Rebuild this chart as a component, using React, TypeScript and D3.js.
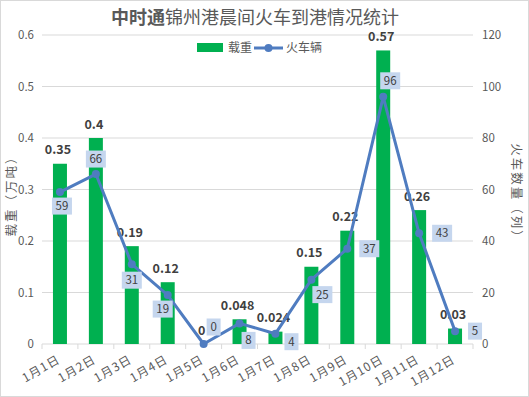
import React from 'react';
import * as d3 from 'd3';

const categories = ['1月1日', '1月2日', '1月3日', '1月4日', '1月5日', '1月6日',
                    '1月7日', '1月8日', '1月9日', '1月10日', '1月11日', '1月12日'];
const loads = [0.35, 0.4, 0.19, 0.12, 0, 0.048, 0.024, 0.15, 0.22, 0.57, 0.26, 0.03];
const trains = [59, 66, 31, 19, 0, 8, 4, 25, 37, 96, 43, 5];
const leftTicks = [0, 0.1, 0.2, 0.3, 0.4, 0.5, 0.6];
const rightTicks = [0, 20, 40, 60, 80, 100, 120];

// where Excel put each train label box, relative to its point
const labelOffsets = [[2, 14], [0, -15], [0, 16], [-5, 14], [10, -17], [9, 17],
                      [16, 8], [11, 15], [22, 0], [7, -16], [23, 0], [20, 0]];

const W = 529, H = 397;
const FONT = "'Noto Sans CJK SC', 'Noto Sans', sans-serif";

export default function App() {
  const x = d3.scaleBand().domain(categories).range([42, 473]);
  const yL = d3.scaleLinear().domain([0, 0.6]).range([344, 35]);
  const yR = d3.scaleLinear().domain([0, 120]).range([344, 35]);
  const barW = 14;
  const cx = (c: string) => (x(c) as number) + x.bandwidth() / 2;

  const line = d3.line<number>()
                 .x((d, i) => cx(categories[i]))
                 .y(d => yR(d));

  return (
    <div style={{position: 'absolute', left: 0, top: 0}}>
      <svg width={W} height={H} style={{fontFamily: FONT, display: 'block'}}>
        <rect x={0.5} y={0.5} width={W - 1} height={H - 1} fill="white" stroke="#d9d9d9" />

        {leftTicks.map(t =>
          <line key={'g' + t} x1={42} x2={473} y1={yL(t)} y2={yL(t)}
                stroke="#d9d9d9" strokeWidth={1} />
        )}

        {leftTicks.map(t =>
          <text key={'l' + t} x={34} y={yL(t)} dy="0.35em" textAnchor="end"
                fontSize={11.5} fill="#595959">{t}</text>
        )}
        {rightTicks.map(t =>
          <text key={'r' + t} x={482} y={yR(t)} dy="0.35em" textAnchor="start"
                fontSize={11.5} fill="#595959">{t}</text>
        )}

        {/* x axis ticks */}
        {d3.range(categories.length + 1).map(i =>
          <line key={'t' + i} x1={42 + i * x.step()} x2={42 + i * x.step()}
                y1={344} y2={349} stroke="#d9d9d9" />
        )}

        {categories.map((c, i) =>
          <rect key={'b' + c} x={cx(c) - barW / 2} y={yL(loads[i])} width={barW}
                height={344 - yL(loads[i])} fill="#00b050" />
        )}

        {categories.map((c, i) =>
          <text key={'bl' + c} x={cx(c) - 2} y={yL(loads[i]) - 9.5} textAnchor="middle"
                fontSize={12.5} fontWeight="bold" fill="#404040">{loads[i]}</text>
        )}

        <path d={line(trains) || ''} fill="none" stroke="#4f7cc0" strokeWidth={3}
              strokeLinejoin="round" />
        {categories.map((c, i) =>
          <circle key={'p' + c} cx={cx(c)} cy={yR(trains[i])} r={4} fill="#4f7cc0" />
        )}

        {categories.map((c, i) => {
          const bx = cx(c) + labelOffsets[i][0];
          const by = yR(trains[i]) + labelOffsets[i][1];
          const w = String(trains[i]).length > 1 ? 20 : 14;
          return (
            <g key={'tl' + c}>
              <rect x={bx - w / 2} y={by - 8.5} width={w} height={17} fill="#c5d6ee" />
              <text x={bx} y={by} dy="0.35em" textAnchor="middle" fontSize={11.5}
                    fill="#404040">{trains[i]}</text>
            </g>
          );
        })}

        {categories.map(c =>
          <text key={'x' + c} textAnchor="end" fontSize={12} fill="#595959"
                letterSpacing={1}
                transform={`translate(${cx(c) + 1},${362}) rotate(-30)`}>{c}</text>
        )}

        <text x={255} y={24} textAnchor="middle" fontSize={18} fill="#595959">
          <tspan fontWeight="bold">中时通</tspan>锦州港晨间火车到港情况统计
        </text>

        {/* legend */}
        <rect x={197} y={43} width={26} height={9} fill="#00b050" />
        <text x={228} y={48} dy="0.35em" fontSize={12} fill="#595959">载重</text>
        <line x1={254} x2={283} y1={48} y2={48} stroke="#4f7cc0" strokeWidth={3} />
        <circle cx={268.5} cy={48} r={4} fill="#4f7cc0" />
        <text x={286} y={48} dy="0.35em" fontSize={12} fill="#595959">火车辆</text>

        <text transform="translate(12,193) rotate(-90)" textAnchor="middle" dy="0.35em"
              fontSize={12.5} fill="#595959" letterSpacing={2}>载重（万吨）</text>
        <text transform="translate(516,194) rotate(90)" textAnchor="middle" dy="0.35em"
              fontSize={12.5} fill="#595959" letterSpacing={2}>火车数量（列）</text>
      </svg>
    </div>
  );
}
